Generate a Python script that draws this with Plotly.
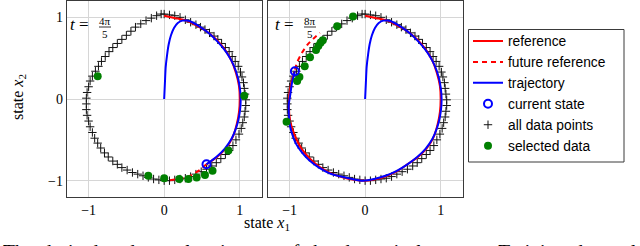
import plotly.graph_objects as go

# ---------------- data ----------------
# all data points (+), clockwise from the top
data_x = [0.00, 0.07, 0.14, 0.21, 0.28, 0.35, 0.42, 0.48, 0.54, 0.60, 0.66, 0.71, 0.76, 0.81, 0.86, 0.90, 0.94, 0.98, 1.01, 1.03, 1.05, 1.06, 1.07, 1.08,
          1.08, 1.07, 1.06, 1.04, 1.02, 0.99, 0.95, 0.91, 0.86, 0.81, 0.75, 0.69, 0.63, 0.56, 0.49, 0.42, 0.35, 0.28, 0.21, 0.14, 0.07, 0.00,
          -0.07, -0.14, -0.21, -0.28, -0.35, -0.42, -0.49, -0.56, -0.62, -0.68, -0.74, -0.79, -0.84, -0.88, -0.92, -0.95, -0.98, -1.00, -1.02, -1.03, -1.03, -1.03,
          -1.02, -1.00, -0.98, -0.95, -0.91, -0.87, -0.83, -0.78, -0.73, -0.68, -0.62, -0.56, -0.50, -0.44, -0.38, -0.31, -0.24, -0.17, -0.10, -0.04]
data_y = [1.04, 1.03, 1.02, 1.00, 0.97, 0.94, 0.91, 0.88, 0.85, 0.81, 0.77, 0.73, 0.68, 0.63, 0.58, 0.52, 0.46, 0.40, 0.33, 0.27, 0.20, 0.13, 0.06, -0.01,
          -0.08, -0.15, -0.22, -0.29, -0.36, -0.43, -0.50, -0.57, -0.63, -0.68, -0.73, -0.78, -0.82, -0.86, -0.89, -0.92, -0.95, -0.97, -0.98, -0.99, -1.00, -1.00,
          -0.99, -0.98, -0.96, -0.94, -0.92, -0.90, -0.87, -0.84, -0.80, -0.76, -0.71, -0.66, -0.60, -0.54, -0.48, -0.41, -0.34, -0.27, -0.20, -0.13, -0.06, 0.01,
          0.08, 0.15, 0.22, 0.28, 0.34, 0.40, 0.46, 0.52, 0.58, 0.63, 0.68, 0.73, 0.78, 0.83, 0.88, 0.92, 0.96, 0.99, 1.02, 1.04]

# reference (red), clockwise from the top
ref_x = [0.00, 0.15, 0.29, 0.43, 0.56, 0.69, 0.80, 0.89, 0.95, 0.99, 1.00, 0.99, 0.96, 0.91, 0.82, 0.70, 0.56,
         0.43, 0.29, 0.15, 0.00, -0.15, -0.30, -0.45, -0.59, -0.72, -0.84, -0.93, -0.99, -1.01, -1.00, -0.97, -0.93]
ref_y = [1.02, 0.99, 0.96, 0.90, 0.83, 0.73, 0.61, 0.47, 0.32, 0.16, 0.00, -0.16, -0.31, -0.46, -0.60, -0.71, -0.80,
         -0.88, -0.94, -0.98, -1.00, -0.99, -0.96, -0.91, -0.84, -0.74, -0.61, -0.45, -0.28, -0.10, 0.08, 0.23, 0.34]
ref_end_left = 17  # points of the reference reached at t = 4pi/5

# future reference (red dashed)
fut1_x = [0.56, 0.47, 0.32, 0.18, 0.03]
fut1_y = [-0.80, -0.87, -0.95, -0.98, -1.00]
fut2_x = [-0.93, -0.90, -0.84, -0.76, -0.66, -0.60]
fut2_y = [0.36, 0.45, 0.56, 0.67, 0.76, 0.81]

# trajectory (blue)
traj_x = [0.00, 0.01, 0.02, 0.04, 0.06, 0.09, 0.13, 0.18, 0.24, 0.30, 0.37, 0.48, 0.60, 0.71, 0.81, 0.89, 0.95, 0.99, 1.01, 1.01,
          0.99, 0.95, 0.89, 0.80, 0.69, 0.56, 0.42, 0.27, 0.12, -0.03, -0.17, -0.32, -0.47, -0.61, -0.74, -0.84, -0.92, -0.97,
          -1.00, -1.01, -1.01, -0.99, -0.97, -0.93]
traj_y = [0.00, 0.20, 0.39, 0.55, 0.67, 0.78, 0.87, 0.93, 0.96, 0.96, 0.94, 0.88, 0.80, 0.70, 0.59, 0.47, 0.34, 0.20, 0.06, -0.08,
          -0.22, -0.36, -0.49, -0.61, -0.71, -0.80, -0.88, -0.94, -0.98, -1.00, -0.98, -0.95, -0.91, -0.84, -0.75, -0.65, -0.54, -0.42,
          -0.30, -0.18, -0.06, 0.06, 0.19, 0.34]
traj_end_left = 26

# current state
cur1 = (0.56, -0.80)
cur2 = (-0.93, 0.34)

# selected data (green)
sel1_x = [-0.88, -0.21, 0.00, 0.20, 0.32, 0.43, 0.54, 0.64, 0.85, 1.06]
sel1_y = [0.28, -0.94, -0.97, -0.98, -0.98, -0.96, -0.93, -0.88, -0.63, 0.04]
sel2_x = [-0.16, -0.37, -0.56, -0.59, -0.62, -0.65, -0.73, -0.80, -0.87, -0.90, -1.04]
sel2_y = [1.01, 0.89, 0.72, 0.69, 0.65, 0.60, 0.51, 0.40, 0.27, 0.22, -0.28]

tick_vals = [-1, 0, 1]
tick_text = ["\u22121", "0", "1"]
time_labels = [("4\u03c0", "5"), ("8\u03c0", "5")]
caption = "The desired and actual trajectory of the dynamical system. Training data sel"

# ---------------- figure ----------------
RED, BLUE, GREEN = "#ff0000", "#0000ff", "#008000"
SERIF = "Liberation Serif"
SANS = "Liberation Sans"

fig = go.Figure()

panels = [
    ("x", "y", ref_end_left, fut1_x, fut1_y, traj_end_left, cur1, sel1_x, sel1_y, True),
    ("x2", "y2", len(ref_x), fut2_x, fut2_y, len(traj_x), cur2, sel2_x, sel2_y, False),
]
for xa, ya, rend, fx, fy, tend, cur, sx, sy, leg in panels:
    fig.add_trace(go.Scatter(x=data_x, y=data_y, mode="markers", xaxis=xa, yaxis=ya,
                             marker=dict(symbol="cross-thin", size=6, line=dict(color="#111111", width=1)),
                             name="all data points", showlegend=leg, legendrank=5))
    fig.add_trace(go.Scatter(x=ref_x[:rend], y=ref_y[:rend], mode="lines", xaxis=xa, yaxis=ya,
                             line=dict(color=RED, width=2, shape="spline", smoothing=0.6),
                             name="reference", showlegend=leg, legendrank=1))
    fig.add_trace(go.Scatter(x=fx, y=fy, mode="lines", xaxis=xa, yaxis=ya,
                             line=dict(color=RED, width=2, dash="5px,4px", shape="spline", smoothing=0.6),
                             name="future reference", showlegend=leg, legendrank=2))
    fig.add_trace(go.Scatter(x=traj_x[:tend], y=traj_y[:tend], mode="lines", xaxis=xa, yaxis=ya,
                             line=dict(color=BLUE, width=2, shape="spline", smoothing=0.6),
                             name="trajectory", showlegend=leg, legendrank=3))
    fig.add_trace(go.Scatter(x=sx, y=sy, mode="markers", xaxis=xa, yaxis=ya,
                             marker=dict(symbol="circle", size=8, color=GREEN),
                             name="selected data", showlegend=leg, legendrank=6))
    fig.add_trace(go.Scatter(x=[cur[0]], y=[cur[1]], mode="markers", xaxis=xa, yaxis=ya,
                             marker=dict(symbol="circle-open", size=8, color=BLUE, line=dict(width=2)),
                             name="current state", showlegend=leg, legendrank=4))

W, H = 640, 246
ydom = [1 - 197 / H, 1 - 1 / H]
axis_common = dict(range=[-1.29, 1.30], tickvals=tick_vals, ticktext=tick_text, showgrid=True,
                   gridcolor="#d6d6d6", gridwidth=1, zeroline=False, showline=True, mirror=True,
                   linecolor="#3a3a3a", linewidth=1, ticks="", automargin=False,
                   tickfont=dict(family=SERIF, size=14, color="black"))
yaxis_common = dict(axis_common, range=[-1.2, 1.2])

fig.update_layout(
    template="none",
    width=W, height=H, margin=dict(l=0, r=0, t=0, b=0, pad=0, autoexpand=False),
    paper_bgcolor="white", plot_bgcolor="white",
    xaxis=dict(axis_common, domain=[66.7 / W, 262.4 / W], anchor="y"),
    xaxis2=dict(axis_common, domain=[267.7 / W, 463.3 / W], anchor="y2"),
    yaxis=dict(yaxis_common, domain=ydom, anchor="x"),
    yaxis2=dict(yaxis_common, domain=ydom, anchor="x2", showticklabels=False),
    legend=dict(x=468 / W, y=1 - 25.5 / H, xanchor="left", yanchor="top",
                bordercolor="rgba(0,0,0,0)", borderwidth=0, bgcolor="rgba(0,0,0,0)",
                font=dict(family=SANS, size=13.8, color="black"), tracegroupgap=0),
    showlegend=True,
)

ann = []
shapes = []
# legend frame
shapes.append(dict(type="rect", xref="paper", yref="paper", x0=468.5 / W, x1=624 / W,
                   y0=1 - 162 / H, y1=1 - 29.5 / H, line=dict(color="#3a3a3a", width=1),
                   fillcolor="rgba(0,0,0,0)", layer="below"))
# axis titles
ann.append(dict(text="state <i>x</i><sub>1</sub>", x=266.7 / W, y=1 - 223 / H, xref="paper", yref="paper",
                showarrow=False, font=dict(family=SERIF, size=16, color="black"), xanchor="center", yanchor="middle"))
ann.append(dict(text="state <i>x</i><sub>2</sub>", x=18 / W, y=1 - 97 / H, xref="paper", yref="paper",
                showarrow=False, textangle=-90, font=dict(family=SERIF, size=16, color="black"),
                xanchor="center", yanchor="middle"))
# time labels
for (num, den), x0 in zip(time_labels, [68, 273]):
    ann.append(dict(text="<i>t</i> =", x=x0 / W, y=1 - 25 / H, xref="paper", yref="paper", showarrow=False,
                    font=dict(family=SERIF, size=17, color="black"), xanchor="left", yanchor="middle"))
    cx = x0 + 37
    ann.append(dict(text=num, x=cx / W, y=1 - 20.5 / H, xref="paper", yref="paper", showarrow=False,
                    font=dict(family=SERIF, size=11, color="black"), xanchor="center", yanchor="middle"))
    ann.append(dict(text=den, x=cx / W, y=1 - 33.5 / H, xref="paper", yref="paper", showarrow=False,
                    font=dict(family=SERIF, size=11, color="black"), xanchor="center", yanchor="middle"))
    shapes.append(dict(type="line", xref="paper", yref="paper", x0=(cx - 6) / W, x1=(cx + 6) / W,
                       y0=1 - 27 / H, y1=1 - 27 / H, line=dict(color="black", width=0.8)))
# caption (justified-looking: widened word spaces)
ann.append(dict(text=caption.replace(" ", " \u2009"), x=1 / W, y=1 - 251 / H, xref="paper", yref="paper",
                showarrow=False, font=dict(family=SERIF, size=19.5, color="black"),
                xanchor="left", yanchor="middle"))
fig.update_layout(annotations=ann, shapes=shapes)

fig.write_html("out.html", config={"displayModeBar": False},
               post_script="document.body.style.margin='0';document.body.style.overflow='hidden';")
